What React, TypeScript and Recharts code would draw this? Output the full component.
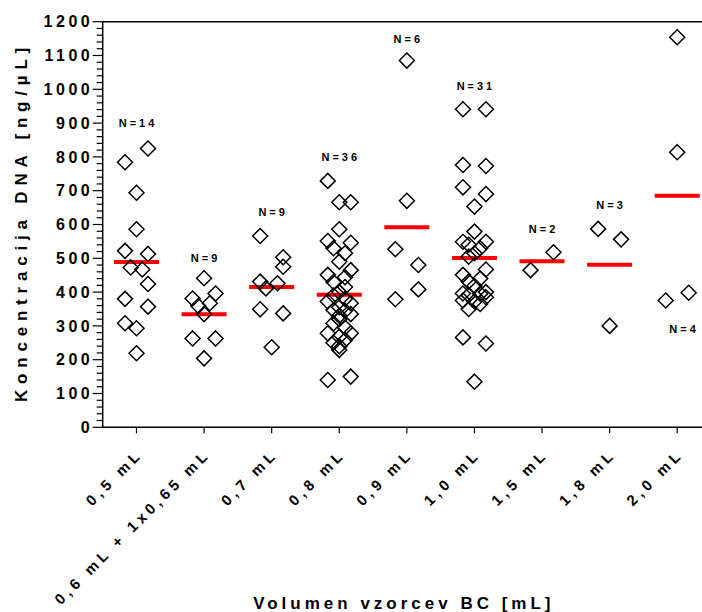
import React from 'react';
import { ScatterChart, Scatter, XAxis, YAxis, ReferenceLine } from 'recharts';

// ---- data ----
const categories = ['0,5 mL', '0,6 mL + 1x0,65 mL', '0,7 mL', '0,8 mL', '0,9 mL', '1,0 mL', '1,5 mL', '1,8 mL', '2,0 mL'];

// values (ng/µL) and horizontal jitter column (-1 .. 1) per category
const v05 = [825, 784, 694, 586, 522, 513, 473, 467, 424, 380, 357, 308, 293, 219];
const c05 = [1, -1, 0, 0, -1, 1, -0.5, 0.5, 1, -1, 1, -1, 0, 0];

const v06 = [441, 396, 381, 367, 359, 335, 263, 263, 204];
const c06 = [0, 1, -1, 0.5, -0.5, 0, -1, 1, 0];

const v07 = [566, 503, 475, 431, 426, 411, 349, 337, 237];
const c07 = [-1, 1, 1, -1, 0.5, -0.5, -1, 1, 0];

const v08 = [729, 666, 666, 586, 551, 546, 530, 515, 490, 465, 451, 444, 430, 415, 400, 390, 380, 372, 367, 355, 347, 345, 335, 330, 320, 308, 295, 278, 278, 268, 258, 250, 240, 229, 150, 140];
const c08 = [-1, 0, 1, 0, -1, 1, -0.5, 0.5, 0, 1, -1, 0.5, -0.5, 0.5, 0, -0.5, 0.5, -1, 1, 0, -0.5, 0.5, 1, 0, 0, -0.5, 0.5, -1, 1, 0, 0.5, -0.5, 0, 0, 1, -1];

const v09 = [1085, 670, 527, 480, 408, 379];
const c09 = [0, 0, -1, 1, 1, -1];

const v10 = [941, 941, 776, 773, 710, 690, 653, 579, 549, 549, 540, 530, 515, 505, 467, 451, 440, 431, 418, 400, 396, 395, 391, 385, 375, 372, 365, 350, 266, 248, 135];
const c10 = [-1, 1, -1, 1, -1, 1, 0, 0, -1, 1, -0.5, 0.5, 0, -0.5, 1, -1, 0.5, -0.5, 0, 1, -1, 0.5, -0.5, 1, -1, 0, 0.5, -0.5, -1, 1, 0];

const v15 = [518, 465];
const c15 = [1, -1];

const v18 = [587, 556, 300];
const c18 = [-1, 1, 0];

const v20 = [1154, 814, 398, 375];
const c20 = [0, 0, 1, -1];

// "N=" label positions (value axis) and small horizontal shift
const nLabelY = [900, 500, 638, 799, 1149, 1008, 587, 656, 290];
const nLabelShift = [0, 0, 0, 0, 0, 0, 0, 0, 0.08];

const yTicksMajor = [0, 100, 200, 300, 400, 500, 600, 700, 800, 900, 1000, 1100, 1200];
const xTicks = [0, 1, 2, 3, 4, 5, 6, 7, 8];

// ---- derived ----
const COL = 0.17; // jitter column width in category units
const MEAN_HALF = 0.333;
const groups = [
  { v: v05, c: c05 }, { v: v06, c: c06 }, { v: v07, c: c07 }, { v: v08, c: c08 },
  { v: v09, c: c09 }, { v: v10, c: c10 }, { v: v15, c: c15 }, { v: v18, c: c18 }, { v: v20, c: c20 },
];
const points = groups.flatMap((g, i) => g.v.map((y, k) => ({ x: i + g.c[k] * COL, y })));
const means = groups.map((g) => g.v.reduce((a, b) => a + b, 0) / g.v.length);
const labels = groups.map((g, i) => ({ x: i + nLabelShift[i], y: nLabelY[i], text: `N=${g.v.length}` }));
const yTicksAll: number[] = [];
for (let t = 0; t <= 1200; t += 20) yTicksAll.push(t);

const FONT = '"Liberation Sans", Arial, sans-serif';

const Diamond = (props: any) => {
  const { cx, cy } = props;
  const r = 7.5;
  return (
    <path
      d={`M${cx},${cy - r} L${cx + r},${cy} L${cx},${cy + r} L${cx - r},${cy} Z`}
      fill="none"
      stroke="#000"
      strokeWidth={1.5}
    />
  );
};

const NLabel = (props: any) => {
  const { cx, cy, payload } = props;
  return (
    <text
      x={cx + 1.5}
      y={cy}
      dy="0.35em"
      textAnchor="middle"
      fontFamily={FONT}
      fontWeight="bold"
      fontSize={11}
      fill="#000"
      style={{ letterSpacing: '3px' }}
    >
      {payload.text}
    </text>
  );
};

const YTick = (props: any) => {
  const { x, y, payload } = props;
  const v = payload.value;
  const major = yTicksMajor.includes(v);
  return (
    <g>
      <line x1={x - (major ? 10 : 6)} y1={y} x2={x} y2={y} stroke="#000" strokeWidth={1.2} />
      {major && (
        <text
          x={x - 9.5}
          y={y}
          dy="0.36em"
          textAnchor="end"
          fontFamily={FONT}
          fontWeight="bold"
          fontSize={16}
          fill="#000"
          style={{ letterSpacing: '3.5px' }}
        >
          {v}
        </text>
      )}
    </g>
  );
};

const XTick = (props: any) => {
  const { x, y, payload } = props;
  return (
    <g>
      <line x1={x} y1={y} x2={x} y2={y + 6} stroke="#000" strokeWidth={1.2} />
      <text
        x={0}
        y={0}
        transform={`translate(${x + 7},${y + 28}) rotate(-45)`}
        textAnchor="end"
        fontFamily={FONT}
        fontWeight="bold"
        fontSize={15}
        fill="#000"
        style={{ letterSpacing: '4.2px' }}
      >
        {categories[payload.value]}
      </text>
    </g>
  );
};

const XTitle = (props: any) => {
  const { viewBox } = props;
  const cx = viewBox.x + viewBox.width / 2 - 3;
  return (
    <text
      x={cx}
      y={viewBox.y + 181.5}
      textAnchor="middle"
      fontFamily={FONT}
      fontWeight="bold"
      fontSize={17}
      fill="#000"
      style={{ letterSpacing: '4px' }}
    >
      Volumen vzorcev BC [mL]
    </text>
  );
};

const YTitle = () => {
  return (
    <text
      x={0}
      y={0}
      transform={`translate(${26.5},${222}) rotate(-90)`}
      textAnchor="middle"
      fontFamily={FONT}
      fontWeight="bold"
      fontSize={17}
      fill="#000"
      style={{ letterSpacing: '5.8px' }}
    >
      Koncentracija DNA [ng/µL]
    </text>
  );
};

export default function App() {
  return (
    <div style={{ position: 'absolute', left: 0, top: 0, width: 702, height: 612, overflow: 'hidden', background: '#fff' }}>
      <ScatterChart width={720} height={612} margin={{ top: 21.7, right: 9, bottom: 24, left: 0 }}>
        <XAxis
          type="number"
          dataKey="x"
          domain={[-0.5, 8.5]}
          ticks={xTicks}
          interval={0}
          allowDataOverflow
          height={160.7}
          tickSize={0}
          tickMargin={0}
          tickLine={false}
          tick={<XTick />}
          axisLine={{ stroke: '#000', strokeWidth: 1.5 }}
          label={<XTitle />}
        />
        <YAxis
          type="number"
          dataKey="y"
          domain={[0, 1200]}
          ticks={yTicksAll}
          interval={0}
          allowDataOverflow
          width={102.7}
          tickSize={0}
          tickMargin={0}
          tickLine={false}
          tick={<YTick />}
          axisLine={{ stroke: '#000', strokeWidth: 1.5 }}
          label={<YTitle />}
        />
        <ReferenceLine y={1200} stroke="#000" strokeWidth={1.5} />
        <Scatter data={points} shape={<Diamond />} isAnimationActive={false} />
        {means.map((m, i) => (
          <ReferenceLine
            key={i}
            segment={[{ x: i - MEAN_HALF, y: m }, { x: i + MEAN_HALF, y: m }]}
            stroke="#ff0000"
            strokeWidth={4}
          />
        ))}
        <Scatter data={labels} shape={<NLabel />} isAnimationActive={false} />
      </ScatterChart>
    </div>
  );
}
